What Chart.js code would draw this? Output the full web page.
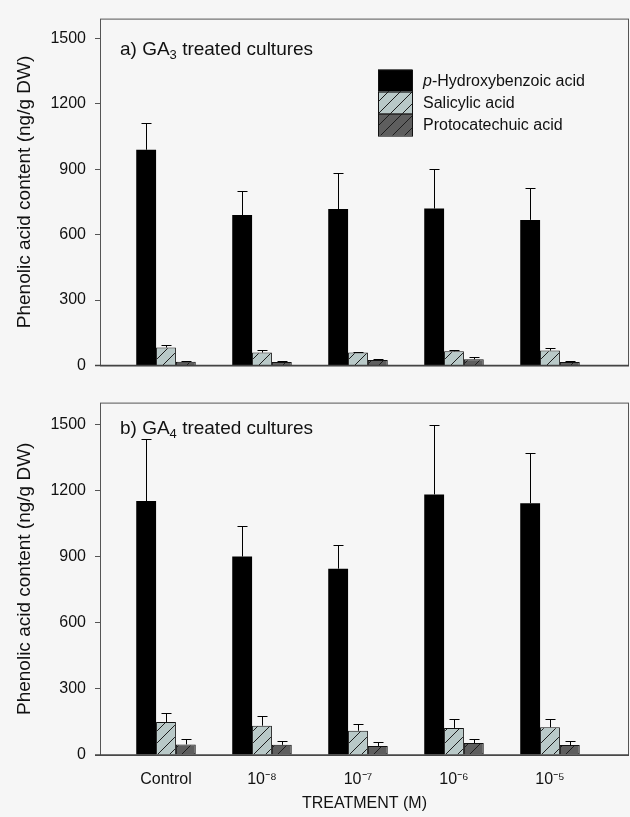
<!DOCTYPE html>
<html>
<head>
<meta charset="utf-8">
<script src="https://cdn.jsdelivr.net/npm/chart.js@4.4.0/dist/chart.umd.min.js"></script>
<style>
  html, body { margin: 0; padding: 0; background: #f6f6f6; }
  #wrap { position: relative; width: 630px; height: 817px; }
  canvas { position: absolute; left: 0; }
  #chartA { top: 0; }
  #chartB { top: 384px; }
</style>
</head>
<body>
<div id="wrap">
  <canvas id="chartA" width="630" height="384"></canvas>
  <canvas id="chartB" width="630" height="433"></canvas>
</div>
<script>
const treatments = ['Control', '10⁻⁸', '10⁻⁷', '10⁻⁶', '10⁻⁵'];
const seriesNames = ['p-Hydroxybenzoic acid', 'Salicylic acid', 'Protocatechuic acid'];
const yTicks = [0, 300, 600, 900, 1200, 1500];

// a) GA3 treated cultures
const ga3Hydroxy = [990, 690, 718, 720, 668];
const ga3HydroxyErr = [125, 110, 164, 182, 147];
const ga3Salicylic = [82, 59, 59, 65, 68];
const ga3SalicylicErr = [10, 10, 4, 7, 14];
const ga3Proto = [17, 16, 25, 28, 16];
const ga3ProtoErr = [3, 2, 3, 11, 2];

// b) GA4 treated cultures
const ga4Hydroxy = [1153, 901, 846, 1183, 1143];
const ga4HydroxyErr = [282, 140, 107, 317, 227];
const ga4Salicylic = [150, 133, 110, 123, 126];
const ga4SalicylicErr = [40, 45, 30, 41, 39];
const ga4Proto = [48, 46, 41, 54, 45];
const ga4ProtoErr = [26, 16, 17, 17, 19];

Chart.defaults.font.family = "'Liberation Sans', Arial, sans-serif";
Chart.defaults.color = '#111';

function hatch(fill) {
    const c = document.createElement('canvas');
    c.width = 12; c.height = 12;
    const g = c.getContext('2d');
    g.fillStyle = fill;
    g.fillRect(0, 0, 12, 12);
    g.strokeStyle = '#1c1c1c';
    g.lineWidth = 1;
    g.beginPath();
    g.moveTo(0, 12); g.lineTo(12, 0);
    g.moveTo(-6, 6); g.lineTo(6, -6);
    g.moveTo(6, 18); g.lineTo(18, 6);
    g.stroke();
    return g.createPattern(c, 'repeat');
}

const fills = ['#000000', hatch('#b9c9c8'), hatch('#5e5e5e')];

const toPoints = (arr) => arr.map((v, i) => ({ x: i + 1, y: v }));

// box around the plot area
const frame = {
    id: 'frame',
    afterDatasetsDraw(chart) {
        const { ctx, chartArea: a } = chart;
        ctx.save();
        ctx.strokeStyle = '#555';
        ctx.lineWidth = 1;
        ctx.strokeRect(a.left + 0.5, a.top + 0.5, a.right - a.left - 1, a.bottom - a.top);
        ctx.strokeStyle = '#444';
        ctx.lineWidth = 1.5;
        ctx.beginPath();
        ctx.moveTo(a.left - 5, a.bottom);
        ctx.lineTo(a.right, a.bottom);
        ctx.stroke();
        ctx.restore();
    }
};

// upper error bars with caps
const errorBars = {
    id: 'errorBars',
    afterDatasetsDraw(chart) {
        const ctx = chart.ctx;
        const y = chart.scales.y;
        ctx.save();
        ctx.strokeStyle = '#000';
        ctx.lineWidth = 1;
        chart.data.datasets.forEach((ds, di) => {
            chart.getDatasetMeta(di).data.forEach((bar, i) => {
                const x = Math.round(bar.x) + 0.5;
                const top = Math.round(y.getPixelForValue(ds.data[i].y + ds.errors[i])) + 0.5;
                ctx.beginPath();
                ctx.moveTo(x, bar.y);
                ctx.lineTo(x, top);
                ctx.moveTo(x - 5, top);
                ctx.lineTo(x + 5, top);
                ctx.stroke();
            });
        });
        ctx.restore();
    }
};

// panel heading "a) GA3 treated cultures" with subscript
const panelTitle = {
    id: 'panelTitle',
    afterDraw(chart, args, opts) {
        const { ctx, chartArea: a } = chart;
        const x = a.left + 20;
        const y = a.top + opts.dy;
        ctx.save();
        ctx.fillStyle = '#111';
        ctx.textBaseline = 'middle';
        ctx.font = "19px 'Liberation Sans', Arial, sans-serif";
        ctx.fillText(opts.head, x, y);
        let w = ctx.measureText(opts.head).width;
        ctx.font = "13px 'Liberation Sans', Arial, sans-serif";
        ctx.fillText(opts.sub, x + w, y + 6);
        w += ctx.measureText(opts.sub).width;
        ctx.font = "19px 'Liberation Sans', Arial, sans-serif";
        ctx.fillText(opts.rest, x + w, y);
        ctx.restore();
    }
};

// stacked legend boxes
const stackLegend = {
    id: 'stackLegend',
    afterDraw(chart, args, opts) {
        if (!opts.show) return;
        const { ctx, chartArea: a } = chart;
        const bx = a.left + 278, by = a.top + 51, bw = 34, bh = 22;
        ctx.save();
        chart.data.datasets.forEach((ds, i) => {
            ctx.fillStyle = ds.backgroundColor;
            ctx.fillRect(bx, by + i * bh, bw, bh);
            ctx.strokeStyle = '#111';
            ctx.lineWidth = 1;
            ctx.strokeRect(bx + 0.5, by + i * bh + 0.5, bw, bh);
            ctx.fillStyle = '#111';
            ctx.textBaseline = 'middle';
            const ty = by + i * bh + bh / 2 + 1;
            let tx = bx + bw + 11;
            if (i === 0) {
                ctx.font = "italic 16px 'Liberation Sans', Arial, sans-serif";
                ctx.fillText('p', tx, ty);
                tx += ctx.measureText('p').width;
                ctx.font = "16px 'Liberation Sans', Arial, sans-serif";
                ctx.fillText(ds.label.slice(1), tx, ty);
            } else {
                ctx.font = "16px 'Liberation Sans', Arial, sans-serif";
                ctx.fillText(ds.label, tx, ty);
            }
        });
        ctx.restore();
    }
};

function makeChart(id, values, errors, cfg) {
    const datasets = values.map((vals, i) => ({
        label: seriesNames[i],
        data: toPoints(vals),
        errors: errors[i],
        backgroundColor: fills[i],
        borderColor: '#111',
        borderWidth: i === 0 ? 0 : 1,
        borderSkipped: 'bottom',
        barPercentage: 1,
        categoryPercentage: 0.62
    }));

    return new Chart(document.getElementById(id), {
        type: 'bar',
        data: { datasets },
        plugins: [frame, errorBars, panelTitle, stackLegend],
        options: {
            responsive: false,
            animation: false,
            layout: { padding: { top: cfg.padTop, right: 1, left: 0, bottom: 0 } },
            plugins: {
                legend: { display: false },
                tooltip: { enabled: false },
                panelTitle: { head: cfg.head, sub: cfg.sub, rest: ' treated cultures', dy: cfg.titleDy },
                stackLegend: { show: cfg.legend }
            },
            scales: {
                x: {
                    type: 'linear',
                    offset: false,
                    min: 0.3125,
                    max: 5.823,
                    grid: { display: false },
                    border: { display: false },
                    afterBuildTicks: (s) => { s.ticks = treatments.map((t, i) => ({ value: i + 1 })); },
                    afterFit: (s) => { s.height = cfg.xHeight; },
                    ticks: {
                        display: cfg.xLabels,
                        padding: 7,
                        font: { size: 16 },
                        color: '#111',
                        callback: (v) => treatments[v - 1]
                    },
                    title: {
                        display: cfg.xLabels,
                        text: 'TREATMENT (M)',
                        font: { size: 16 },
                        color: '#111',
                        padding: { top: 0, bottom: 4 }
                    }
                },
                y: {
                    min: 0,
                    max: cfg.yMax,
                    afterBuildTicks: (s) => { s.ticks = yTicks.map(v => ({ value: v })); },
                    afterFit: (s) => { s.width = 100; },
                    border: { display: false },
                    grid: { drawOnChartArea: false, drawTicks: true, tickLength: 5, color: '#555' },
                    ticks: { padding: 9, font: { size: 16 }, color: '#111', callback: (v) => String(v) },
                    title: {
                        display: true,
                        text: 'Phenolic acid content (ng/g DW)',
                        font: { size: 19 },
                        color: '#111',
                        padding: { top: 13, bottom: 0 }
                    }
                }
            }
        }
    });
}

makeChart('chartA',
    [ga3Hydroxy, ga3Salicylic, ga3Proto],
    [ga3HydroxyErr, ga3SalicylicErr, ga3ProtoErr],
    { padTop: 12, xHeight: 3, xLabels: false, yMax: 1592, head: 'a) GA', sub: '3', titleDy: 31, legend: true });

makeChart('chartB',
    [ga4Hydroxy, ga4Salicylic, ga4Proto],
    [ga4HydroxyErr, ga4SalicylicErr, ga4ProtoErr],
    { padTop: 3, xHeight: 62, xLabels: true, yMax: 1600, head: 'b) GA', sub: '4', titleDy: 26, legend: false });
</script>
</body>
</html>
